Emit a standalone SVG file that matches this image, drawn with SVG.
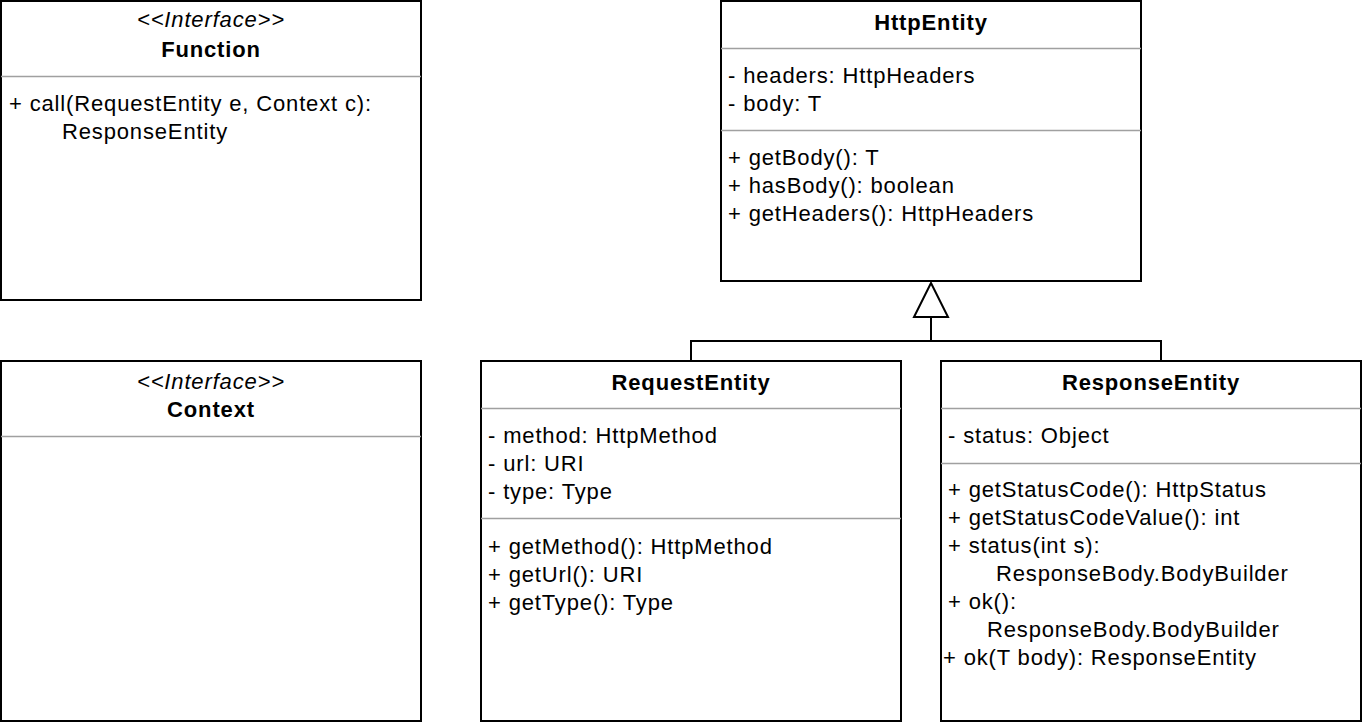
<svg xmlns="http://www.w3.org/2000/svg" width="1362" height="722" viewBox="0 0 1362 722">
<style>
.box{fill:#fff;stroke:#000;stroke-width:2}
.sep{stroke:#a0a0a0;stroke-width:1.5}
text{font-family:"Liberation Sans",Arial,sans-serif;font-size:22px;letter-spacing:0.85px;fill:#000}
.t{font-weight:bold;text-anchor:middle}
.st{font-style:italic;text-anchor:middle}
.conn{fill:none;stroke:#000;stroke-width:2}
</style>
<rect width="1362" height="722" fill="#fff"/>
<g id="Function">
<rect class="box" x="1" y="1" width="420" height="299"/>
<text class="st" x="211" y="27">&lt;&lt;Interface&gt;&gt;</text>
<text class="t" x="211" y="57">Function</text>
<line class="sep" x1="1" y1="76.5" x2="421" y2="76.5"/>
<text x="9" y="111">+ call(RequestEntity e, Context c):</text>
<text x="62" y="139">ResponseEntity</text>
</g>
<g id="Context">
<rect class="box" x="1" y="361" width="420" height="360"/>
<text class="st" x="211" y="389">&lt;&lt;Interface&gt;&gt;</text>
<text class="t" x="211" y="417">Context</text>
<line class="sep" x1="1" y1="436.5" x2="421" y2="436.5"/>
</g>
<g id="HttpEntity">
<rect class="box" x="721" y="1" width="420" height="280"/>
<text class="t" x="931" y="30">HttpEntity</text>
<line class="sep" x1="721" y1="48.5" x2="1141" y2="48.5"/>
<text x="728" y="83">- headers: HttpHeaders</text>
<text x="728" y="111">- body: T</text>
<line class="sep" x1="721" y1="130.5" x2="1141" y2="130.5"/>
<text x="728" y="165">+ getBody(): T</text>
<text x="728" y="193">+ hasBody(): boolean</text>
<text x="728" y="221">+ getHeaders(): HttpHeaders</text>
</g>
<g id="RequestEntity">
<rect class="box" x="481" y="361" width="420" height="360"/>
<text class="t" x="691" y="390">RequestEntity</text>
<line class="sep" x1="481" y1="408.5" x2="901" y2="408.5"/>
<text x="488" y="443">- method: HttpMethod</text>
<text x="488" y="471">- url: URI</text>
<text x="488" y="499">- type: Type</text>
<line class="sep" x1="481" y1="518.5" x2="901" y2="518.5"/>
<text x="488" y="554">+ getMethod(): HttpMethod</text>
<text x="488" y="582">+ getUrl(): URI</text>
<text x="488" y="610">+ getType(): Type</text>
</g>
<g id="ResponseEntity">
<rect class="box" x="941" y="361" width="420" height="360"/>
<text class="t" x="1151" y="390">ResponseEntity</text>
<line class="sep" x1="941" y1="408.5" x2="1361" y2="408.5"/>
<text x="948" y="443">- status: Object</text>
<line class="sep" x1="941" y1="463.5" x2="1361" y2="463.5"/>
<text x="948" y="497">+ getStatusCode(): HttpStatus</text>
<text x="948" y="525">+ getStatusCodeValue(): int</text>
<text x="948" y="553">+ status(int s):</text>
<text x="996" y="581">ResponseBody.BodyBuilder</text>
<text x="948" y="609">+ ok():</text>
<text x="987" y="637">ResponseBody.BodyBuilder</text>
<text x="943" y="665">+ ok(T body): ResponseEntity</text>
</g>
<g id="connectors">
<polyline class="conn" points="691,361 691,341 1161,341 1161,361"/>
<line class="conn" x1="931" y1="341" x2="931" y2="317"/>
<polygon class="conn" points="931,283 914,317 948,317"/>
</g>
</svg>
